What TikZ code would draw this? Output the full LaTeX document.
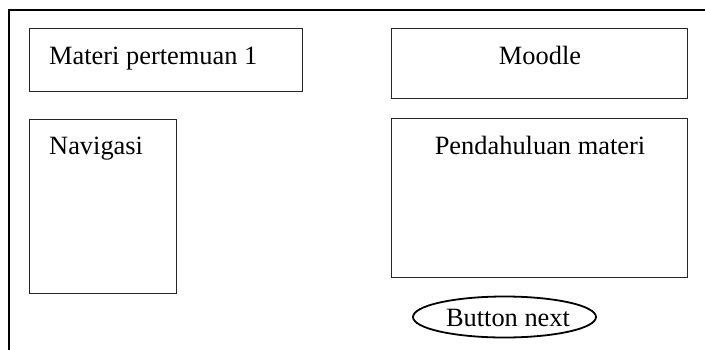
\documentclass[tikz,border=0pt]{standalone}
\usepackage{fontspec}
\setmainfont{Liberation Serif}
\usetikzlibrary{shapes.geometric}
\begin{document}
\begin{tikzpicture}[x=1pt,y=-1pt,
  panel/.style={draw=black!85,line width=1pt,inner sep=0pt,rectangle},
  caption/.style={inner sep=0pt,font=\fontsize{26.4}{30}\selectfont},
  btn/.style={draw,line width=1.8pt,ellipse,inner sep=0pt}]
\useasboundingbox (0,0) rectangle (705,349);
% page frame (left and top edges)
\coordinate (fbl) at (9,352);
\coordinate (ftl) at (9,10);
\coordinate (ftr) at (708,10);
\draw[line width=2pt] (fbl) -- (ftl) -- (ftr);
% panels
\node[panel,minimum width=273pt,minimum height=63pt] (materi) at (165.5,59.5) {};
\node[panel,minimum width=296pt,minimum height=70pt] (moodle) at (539,63) {};
\node[panel,minimum width=147pt,minimum height=174pt] (nav) at (102.5,206) {};
\node[panel,minimum width=296pt,minimum height=159pt] (intro) at (539,197.5) {};
\node[btn,minimum width=183pt,minimum height=41pt] (next) at (504.5,317) {};
% captions
\node[caption,anchor=base west] (tmateri) at (49,64) {Materi pertemuan 1};
\node[caption,anchor=base] (tmoodle) at (540,64) {Moodle};
\node[caption,anchor=base west] (tnav) at (49,154) {Navigasi};
\node[caption,anchor=base] (tintro) at (540,154) {Pendahuluan materi};
\node[caption,anchor=base] (tnext) at (508,326) {Button next};
\end{tikzpicture}
\end{document}
